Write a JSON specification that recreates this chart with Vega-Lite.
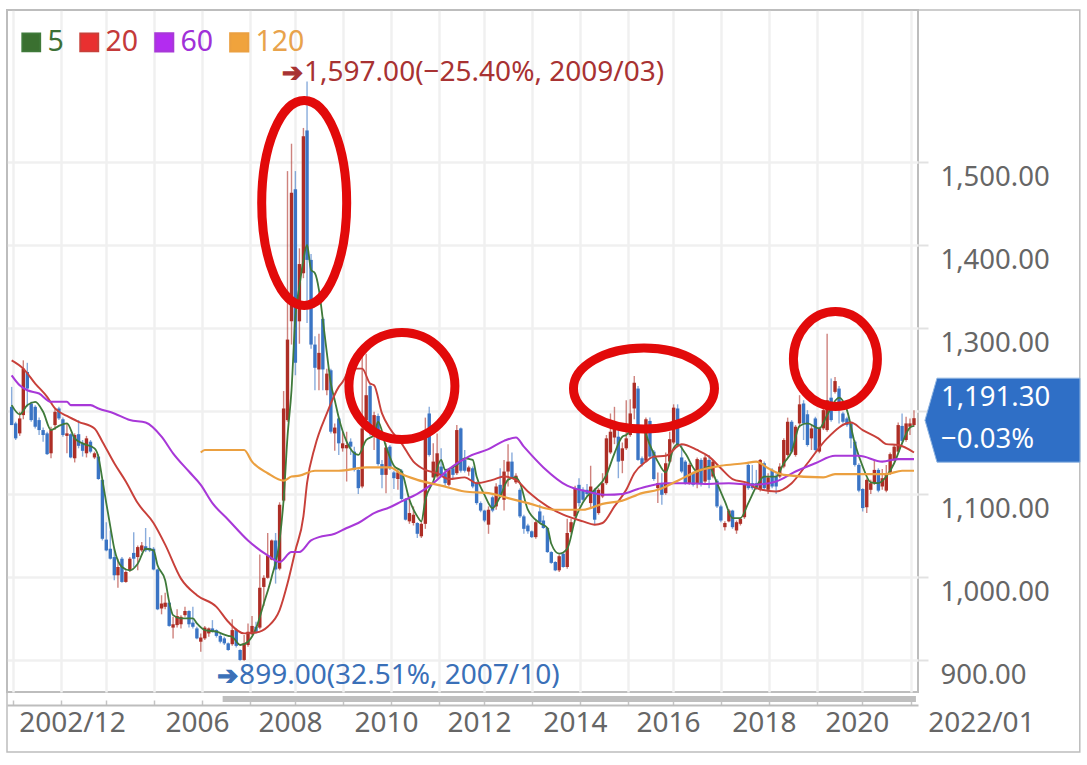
{
"$schema":"https://vega.github.io/schema/vega-lite/v6.json",
"width":911,"height":682,
"padding":{"left":7,"top":10,"right":169,"bottom":73},
"autosize":"none",
"background":"white",
"view":{"stroke":"#bdbdbd","strokeWidth":2,"fill":null},
"config":{"font":"Noto Sans"},
"datasets":{
"candles":[
{"date":"2002-12-01","open":1205,"high":1229,"low":1183,"close":1183},
{"date":"2003-01-01","open":1185,"high":1187,"low":1165,"close":1167},
{"date":"2003-02-01","open":1173,"high":1199,"low":1170,"close":1191},
{"date":"2003-03-01","open":1195,"high":1261,"low":1190,"close":1251},
{"date":"2003-04-01","open":1247,"high":1258,"low":1205,"close":1227},
{"date":"2003-05-01","open":1209,"high":1211,"low":1187,"close":1189},
{"date":"2003-06-01","open":1205,"high":1207,"low":1179,"close":1181},
{"date":"2003-07-01","open":1189,"high":1192,"low":1171,"close":1177},
{"date":"2003-08-01","open":1177,"high":1180,"low":1163,"close":1171},
{"date":"2003-09-01","open":1173,"high":1175,"low":1147,"close":1148},
{"date":"2003-10-01","open":1149,"high":1181,"low":1143,"close":1177},
{"date":"2003-11-01","open":1183,"high":1203,"low":1177,"close":1199},
{"date":"2003-12-01","open":1203,"high":1205,"low":1189,"close":1191},
{"date":"2004-01-01","open":1190,"high":1192,"low":1169,"close":1171},
{"date":"2004-02-01","open":1170,"high":1185,"low":1149,"close":1173},
{"date":"2004-03-01","open":1172,"high":1173,"low":1143,"close":1144},
{"date":"2004-04-01","open":1143,"high":1173,"low":1138,"close":1171},
{"date":"2004-05-01","open":1172,"high":1189,"low":1155,"close":1158},
{"date":"2004-06-01","open":1161,"high":1165,"low":1145,"close":1152},
{"date":"2004-07-01","open":1149,"high":1170,"low":1144,"close":1167},
{"date":"2004-08-01","open":1163,"high":1165,"low":1149,"close":1151},
{"date":"2004-09-01","open":1144,"high":1151,"low":1142,"close":1149},
{"date":"2004-10-01","open":1145,"high":1148,"low":1117,"close":1118},
{"date":"2004-11-01","open":1117,"high":1118,"low":1044,"close":1046},
{"date":"2004-12-01","open":1045,"high":1066,"low":1031,"close":1032},
{"date":"2005-01-01","open":1034,"high":1056,"low":1021,"close":1022},
{"date":"2005-02-01","open":1024,"high":1034,"low":996,"close":1002},
{"date":"2005-03-01","open":1002,"high":1022,"low":987,"close":1012},
{"date":"2005-04-01","open":1022,"high":1024,"low":993,"close":994},
{"date":"2005-05-01","open":994,"high":1008,"low":993,"close":1006},
{"date":"2005-06-01","open":1008,"high":1024,"low":1006,"close":1022},
{"date":"2005-07-01","open":1029,"high":1054,"low":1012,"close":1022},
{"date":"2005-08-01","open":1024,"high":1038,"low":1008,"close":1036},
{"date":"2005-09-01","open":1032,"high":1042,"low":1030,"close":1038},
{"date":"2005-10-01","open":1037,"high":1059,"low":1030,"close":1032},
{"date":"2005-11-01","open":1035,"high":1048,"low":1030,"close":1032},
{"date":"2005-12-01","open":1034,"high":1036,"low":1008,"close":1009},
{"date":"2006-01-01","open":1009,"high":1010,"low":960,"close":961},
{"date":"2006-02-01","open":962,"high":978,"low":955,"close":968},
{"date":"2006-03-01","open":964,"high":981,"low":961,"close":969},
{"date":"2006-04-01","open":969,"high":970,"low":940,"close":941},
{"date":"2006-05-01","open":939,"high":952,"low":926,"close":943},
{"date":"2006-06-01","open":942,"high":961,"low":939,"close":953},
{"date":"2006-07-01","open":943,"high":954,"low":938,"close":952},
{"date":"2006-08-01","open":954,"high":964,"low":952,"close":959},
{"date":"2006-09-01","open":959,"high":960,"low":939,"close":943},
{"date":"2006-10-01","open":945,"high":964,"low":938,"close":940},
{"date":"2006-11-01","open":938,"high":940,"low":925,"close":926},
{"date":"2006-12-01","open":922,"high":932,"low":910,"close":927},
{"date":"2007-01-01","open":926,"high":941,"low":924,"close":939},
{"date":"2007-02-01","open":932,"high":939,"low":928,"close":938},
{"date":"2007-03-01","open":938,"high":948,"low":933,"close":935},
{"date":"2007-04-01","open":936,"high":937,"low":927,"close":929},
{"date":"2007-05-01","open":929,"high":932,"low":920,"close":922},
{"date":"2007-06-01","open":926,"high":928,"low":918,"close":920},
{"date":"2007-07-01","open":920,"high":921,"low":911,"close":912},
{"date":"2007-08-01","open":919,"high":949,"low":917,"close":936},
{"date":"2007-09-01","open":936,"high":938,"low":915,"close":917},
{"date":"2007-10-01","open":912,"high":913,"low":899,"close":900},
{"date":"2007-11-01","open":900,"high":930,"low":899,"close":920},
{"date":"2007-12-01","open":918,"high":944,"low":916,"close":934},
{"date":"2008-01-01","open":931,"high":953,"low":930,"close":941},
{"date":"2008-02-01","open":940,"high":946,"low":932,"close":934},
{"date":"2008-03-01","open":939,"high":1027,"low":937,"close":987},
{"date":"2008-04-01","open":988,"high":1002,"low":965,"close":999},
{"date":"2008-05-01","open":999,"high":1053,"low":998,"close":1026},
{"date":"2008-06-01","open":1021,"high":1045,"low":1020,"close":1044},
{"date":"2008-07-01","open":1044,"high":1053,"low":992,"close":1009},
{"date":"2008-08-01","open":1010,"high":1090,"low":1008,"close":1087},
{"date":"2008-09-01","open":1092,"high":1224,"low":1090,"close":1203},
{"date":"2008-10-01","open":1189,"high":1489,"low":1187,"close":1286},
{"date":"2008-11-01","open":1308,"high":1522,"low":1280,"close":1463},
{"date":"2008-12-01","open":1467,"high":1489,"low":1243,"close":1258},
{"date":"2009-01-01","open":1308,"high":1396,"low":1281,"close":1377},
{"date":"2009-02-01","open":1366,"high":1541,"low":1360,"close":1531},
{"date":"2009-03-01","open":1538,"high":1597,"low":1306,"close":1382},
{"date":"2009-04-01","open":1382,"high":1389,"low":1275,"close":1280},
{"date":"2009-05-01","open":1280,"high":1290,"low":1225,"close":1252},
{"date":"2009-06-01","open":1250,"high":1293,"low":1225,"close":1270},
{"date":"2009-07-01","open":1311,"high":1313,"low":1225,"close":1250},
{"date":"2009-08-01","open":1225,"high":1251,"low":1219,"close":1245},
{"date":"2009-09-01","open":1249,"high":1251,"low":1173,"close":1175},
{"date":"2009-10-01","open":1173,"high":1185,"low":1152,"close":1180},
{"date":"2009-11-01","open":1191,"high":1193,"low":1147,"close":1161},
{"date":"2009-12-01","open":1155,"high":1175,"low":1151,"close":1161},
{"date":"2010-01-01","open":1155,"high":1175,"low":1115,"close":1159},
{"date":"2010-02-01","open":1163,"high":1167,"low":1147,"close":1157},
{"date":"2010-03-01","open":1151,"high":1157,"low":1127,"close":1129},
{"date":"2010-04-01","open":1129,"high":1130,"low":1100,"close":1107},
{"date":"2010-05-01","open":1109,"high":1269,"low":1107,"close":1179},
{"date":"2010-06-01","open":1189,"high":1269,"low":1177,"close":1219},
{"date":"2010-07-01","open":1230,"high":1233,"low":1170,"close":1180},
{"date":"2010-08-01","open":1180,"high":1199,"low":1153,"close":1195},
{"date":"2010-09-01","open":1194,"high":1197,"low":1134,"close":1136},
{"date":"2010-10-01","open":1136,"high":1141,"low":1107,"close":1123},
{"date":"2010-11-01","open":1123,"high":1161,"low":1101,"close":1156},
{"date":"2010-12-01","open":1157,"high":1159,"low":1129,"close":1131},
{"date":"2011-01-01","open":1126,"high":1128,"low":1106,"close":1119},
{"date":"2011-02-01","open":1118,"high":1131,"low":1105,"close":1126},
{"date":"2011-03-01","open":1128,"high":1130,"low":1092,"close":1094},
{"date":"2011-04-01","open":1094,"high":1095,"low":1068,"close":1069},
{"date":"2011-05-01","open":1067,"high":1097,"low":1064,"close":1077},
{"date":"2011-06-01","open":1065,"high":1085,"low":1062,"close":1075},
{"date":"2011-07-01","open":1065,"high":1066,"low":1047,"close":1052},
{"date":"2011-08-01","open":1049,"high":1066,"low":1047,"close":1064},
{"date":"2011-09-01","open":1064,"high":1192,"low":1058,"close":1175},
{"date":"2011-10-01","open":1197,"high":1205,"low":1145,"close":1147},
{"date":"2011-11-01","open":1120,"high":1161,"low":1119,"close":1139},
{"date":"2011-12-01","open":1121,"high":1173,"low":1119,"close":1149},
{"date":"2012-01-01","open":1133,"high":1155,"low":1120,"close":1123},
{"date":"2012-02-01","open":1125,"high":1130,"low":1110,"close":1113},
{"date":"2012-03-01","open":1111,"high":1131,"low":1109,"close":1129},
{"date":"2012-04-01","open":1131,"high":1133,"low":1119,"close":1123},
{"date":"2012-05-01","open":1125,"high":1183,"low":1123,"close":1177},
{"date":"2012-06-01","open":1179,"high":1180,"low":1126,"close":1128},
{"date":"2012-07-01","open":1141,"high":1153,"low":1126,"close":1128},
{"date":"2012-08-01","open":1127,"high":1134,"low":1122,"close":1132},
{"date":"2012-09-01","open":1131,"high":1133,"low":1107,"close":1109},
{"date":"2012-10-01","open":1113,"high":1115,"low":1087,"close":1089},
{"date":"2012-11-01","open":1089,"high":1091,"low":1078,"close":1080},
{"date":"2012-12-01","open":1080,"high":1081,"low":1066,"close":1068},
{"date":"2013-01-01","open":1063,"high":1085,"low":1052,"close":1081},
{"date":"2013-02-01","open":1096,"high":1098,"low":1078,"close":1080},
{"date":"2013-03-01","open":1085,"high":1113,"low":1081,"close":1109},
{"date":"2013-04-01","open":1111,"high":1131,"low":1095,"close":1097},
{"date":"2013-05-01","open":1093,"high":1141,"low":1080,"close":1127},
{"date":"2013-06-01","open":1127,"high":1160,"low":1109,"close":1139},
{"date":"2013-07-01","open":1139,"high":1150,"low":1118,"close":1120},
{"date":"2013-08-01","open":1114,"high":1125,"low":1112,"close":1122},
{"date":"2013-09-01","open":1105,"high":1107,"low":1071,"close":1073},
{"date":"2013-10-01","open":1073,"high":1075,"low":1052,"close":1058},
{"date":"2013-11-01","open":1062,"high":1064,"low":1052,"close":1055},
{"date":"2013-12-01","open":1055,"high":1056,"low":1047,"close":1048},
{"date":"2014-01-01","open":1048,"high":1068,"low":1046,"close":1066},
{"date":"2014-02-01","open":1079,"high":1087,"low":1064,"close":1066},
{"date":"2014-03-01","open":1068,"high":1074,"low":1058,"close":1059},
{"date":"2014-04-01","open":1059,"high":1060,"low":1029,"close":1030},
{"date":"2014-05-01","open":1030,"high":1031,"low":1016,"close":1017},
{"date":"2014-06-01","open":1018,"high":1019,"low":1007,"close":1008},
{"date":"2014-07-01","open":1008,"high":1027,"low":1006,"close":1025},
{"date":"2014-08-01","open":1028,"high":1030,"low":1011,"close":1012},
{"date":"2014-09-01","open":1012,"high":1070,"low":1010,"close":1053},
{"date":"2014-10-01","open":1054,"high":1070,"low":1052,"close":1066},
{"date":"2014-11-01","open":1073,"high":1110,"low":1071,"close":1107},
{"date":"2014-12-01","open":1111,"high":1119,"low":1085,"close":1089},
{"date":"2015-01-01","open":1105,"high":1108,"low":1091,"close":1093},
{"date":"2015-02-01","open":1105,"high":1112,"low":1097,"close":1100},
{"date":"2015-03-01","open":1089,"high":1134,"low":1083,"close":1109},
{"date":"2015-04-01","open":1105,"high":1107,"low":1063,"close":1069},
{"date":"2015-05-01","open":1077,"high":1107,"low":1075,"close":1105},
{"date":"2015-06-01","open":1097,"high":1125,"low":1095,"close":1113},
{"date":"2015-07-01","open":1113,"high":1171,"low":1111,"close":1167},
{"date":"2015-08-01","open":1150,"high":1197,"low":1148,"close":1175},
{"date":"2015-09-01","open":1168,"high":1205,"low":1160,"close":1180},
{"date":"2015-10-01","open":1169,"high":1185,"low":1119,"close":1139},
{"date":"2015-11-01","open":1140,"high":1162,"low":1125,"close":1155},
{"date":"2015-12-01","open":1155,"high":1213,"low":1153,"close":1167},
{"date":"2016-01-01","open":1171,"high":1214,"low":1169,"close":1197},
{"date":"2016-02-01","open":1203,"high":1242,"low":1190,"close":1234},
{"date":"2016-03-01","open":1227,"high":1230,"low":1140,"close":1141},
{"date":"2016-04-01","open":1143,"high":1145,"low":1133,"close":1136},
{"date":"2016-05-01","open":1140,"high":1192,"low":1138,"close":1190},
{"date":"2016-06-01","open":1188,"high":1192,"low":1143,"close":1145},
{"date":"2016-07-01","open":1151,"high":1153,"low":1116,"close":1118},
{"date":"2016-08-01","open":1107,"high":1126,"low":1089,"close":1113},
{"date":"2016-09-01","open":1113,"high":1125,"low":1087,"close":1099},
{"date":"2016-10-01","open":1101,"high":1150,"low":1099,"close":1137},
{"date":"2016-11-01","open":1139,"high":1175,"low":1137,"close":1166},
{"date":"2016-12-01","open":1162,"high":1208,"low":1160,"close":1204},
{"date":"2017-01-01","open":1203,"high":1208,"low":1158,"close":1160},
{"date":"2017-02-01","open":1144,"high":1160,"low":1125,"close":1127},
{"date":"2017-03-01","open":1139,"high":1141,"low":1111,"close":1113},
{"date":"2017-04-01","open":1113,"high":1137,"low":1111,"close":1135},
{"date":"2017-05-01","open":1125,"high":1127,"low":1109,"close":1111},
{"date":"2017-06-01","open":1113,"high":1144,"low":1107,"close":1142},
{"date":"2017-07-01","open":1141,"high":1143,"low":1109,"close":1113},
{"date":"2017-08-01","open":1115,"high":1147,"low":1113,"close":1144},
{"date":"2017-09-01","open":1141,"high":1147,"low":1107,"close":1117},
{"date":"2017-10-01","open":1121,"high":1141,"low":1119,"close":1139},
{"date":"2017-11-01","open":1116,"high":1118,"low":1083,"close":1085},
{"date":"2017-12-01","open":1085,"high":1087,"low":1066,"close":1068},
{"date":"2018-01-01","open":1060,"high":1067,"low":1056,"close":1065},
{"date":"2018-02-01","open":1067,"high":1082,"low":1066,"close":1080},
{"date":"2018-03-01","open":1080,"high":1081,"low":1058,"close":1060},
{"date":"2018-04-01","open":1056,"high":1068,"low":1052,"close":1066},
{"date":"2018-05-01","open":1064,"high":1072,"low":1062,"close":1070},
{"date":"2018-06-01","open":1072,"high":1113,"low":1070,"close":1111},
{"date":"2018-07-01","open":1135,"high":1137,"low":1105,"close":1107},
{"date":"2018-08-01","open":1113,"high":1135,"low":1105,"close":1107},
{"date":"2018-09-01","open":1113,"high":1129,"low":1105,"close":1107},
{"date":"2018-10-01","open":1105,"high":1142,"low":1103,"close":1141},
{"date":"2018-11-01","open":1137,"high":1139,"low":1105,"close":1107},
{"date":"2018-12-01","open":1105,"high":1125,"low":1100,"close":1120},
{"date":"2019-01-01","open":1129,"high":1131,"low":1107,"close":1109},
{"date":"2019-02-01","open":1121,"high":1125,"low":1100,"close":1109},
{"date":"2019-03-01","open":1121,"high":1137,"low":1119,"close":1133},
{"date":"2019-04-01","open":1133,"high":1167,"low":1131,"close":1165},
{"date":"2019-05-01","open":1147,"high":1192,"low":1145,"close":1187},
{"date":"2019-06-01","open":1187,"high":1189,"low":1149,"close":1151},
{"date":"2019-07-01","open":1147,"high":1183,"low":1145,"close":1181},
{"date":"2019-08-01","open":1185,"high":1219,"low":1180,"close":1208},
{"date":"2019-09-01","open":1209,"high":1213,"low":1165,"close":1185},
{"date":"2019-10-01","open":1196,"high":1201,"low":1157,"close":1159},
{"date":"2019-11-01","open":1167,"high":1184,"low":1153,"close":1179},
{"date":"2019-12-01","open":1191,"high":1193,"low":1151,"close":1153},
{"date":"2020-01-01","open":1151,"high":1181,"low":1149,"close":1179},
{"date":"2020-02-01","open":1179,"high":1210,"low":1177,"close":1201},
{"date":"2020-03-01","open":1177,"high":1293,"low":1175,"close":1213},
{"date":"2020-04-01","open":1216,"high":1239,"low":1187,"close":1189},
{"date":"2020-05-01","open":1223,"high":1241,"low":1221,"close":1236},
{"date":"2020-06-01","open":1227,"high":1230,"low":1185,"close":1207},
{"date":"2020-07-01","open":1197,"high":1199,"low":1185,"close":1187},
{"date":"2020-08-01","open":1191,"high":1193,"low":1181,"close":1183},
{"date":"2020-09-01","open":1185,"high":1187,"low":1155,"close":1167},
{"date":"2020-10-01","open":1163,"high":1165,"low":1133,"close":1135},
{"date":"2020-11-01","open":1135,"high":1137,"low":1102,"close":1104},
{"date":"2020-12-01","open":1106,"high":1107,"low":1079,"close":1083},
{"date":"2021-01-01","open":1084,"high":1119,"low":1077,"close":1117},
{"date":"2021-02-01","open":1105,"high":1117,"low":1100,"close":1113},
{"date":"2021-03-01","open":1113,"high":1141,"low":1111,"close":1129},
{"date":"2021-04-01","open":1129,"high":1131,"low":1102,"close":1104},
{"date":"2021-05-01","open":1109,"high":1130,"low":1105,"close":1119},
{"date":"2021-06-01","open":1104,"high":1135,"low":1102,"close":1125},
{"date":"2021-07-01","open":1125,"high":1150,"low":1123,"close":1148},
{"date":"2021-08-01","open":1141,"high":1160,"low":1139,"close":1157},
{"date":"2021-09-01","open":1151,"high":1186,"low":1149,"close":1183},
{"date":"2021-10-01","open":1182,"high":1197,"low":1160,"close":1164},
{"date":"2021-11-01","open":1165,"high":1193,"low":1163,"close":1185},
{"date":"2021-12-01","open":1181,"high":1191,"low":1171,"close":1185},
{"date":"2022-01-01","open":1183,"high":1201,"low":1181,"close":1191.3}
],
"averages":[
{"date":"2002-12-01","period":"5","value":1207},{"date":"2003-02-01","period":"5","value":1196},{"date":"2003-04-01","period":"5","value":1207},{"date":"2003-06-01","period":"5","value":1211},{"date":"2003-08-01","period":"5","value":1199},{"date":"2003-10-01","period":"5","value":1177},{"date":"2003-12-01","period":"5","value":1182},{"date":"2004-02-01","period":"5","value":1185},{"date":"2004-04-01","period":"5","value":1167},{"date":"2004-06-01","period":"5","value":1161},{"date":"2004-09-01","period":"5","value":1155},{"date":"2004-10-01","period":"5","value":1145},{"date":"2004-11-01","period":"5","value":1117},{"date":"2004-12-01","period":"5","value":1089},{"date":"2005-01-01","period":"5","value":1061},{"date":"2005-02-01","period":"5","value":1034},{"date":"2005-04-01","period":"5","value":1012},{"date":"2005-06-01","period":"5","value":1008},{"date":"2005-08-01","period":"5","value":1016},{"date":"2005-10-01","period":"5","value":1034},{"date":"2005-12-01","period":"5","value":1032},{"date":"2006-01-01","period":"5","value":1014},{"date":"2006-03-01","period":"5","value":996},{"date":"2006-04-01","period":"5","value":970},{"date":"2006-05-01","period":"5","value":954},{"date":"2006-07-01","period":"5","value":950},{"date":"2006-10-01","period":"5","value":950},{"date":"2006-11-01","period":"5","value":944},{"date":"2007-01-01","period":"5","value":936},{"date":"2007-04-01","period":"5","value":934},{"date":"2007-07-01","period":"5","value":929},{"date":"2007-08-01","period":"5","value":928},{"date":"2007-10-01","period":"5","value":918},{"date":"2007-12-01","period":"5","value":922},{"date":"2008-02-01","period":"5","value":938},{"date":"2008-04-01","period":"5","value":968},{"date":"2008-06-01","period":"5","value":1000},{"date":"2008-08-01","period":"5","value":1044},{"date":"2008-09-01","period":"5","value":1093},{"date":"2008-10-01","period":"5","value":1169},{"date":"2008-11-01","period":"5","value":1225},{"date":"2008-12-01","period":"5","value":1314},{"date":"2009-01-01","period":"5","value":1350},{"date":"2009-02-01","period":"5","value":1382},{"date":"2009-03-01","period":"5","value":1400},{"date":"2009-04-01","period":"5","value":1370},{"date":"2009-05-01","period":"5","value":1366},{"date":"2009-06-01","period":"5","value":1346},{"date":"2009-07-01","period":"5","value":1310},{"date":"2009-08-01","period":"5","value":1270},{"date":"2009-09-01","period":"5","value":1233},{"date":"2009-10-01","period":"5","value":1213},{"date":"2009-11-01","period":"5","value":1192},{"date":"2010-01-01","period":"5","value":1163},{"date":"2010-04-01","period":"5","value":1147},{"date":"2010-06-01","period":"5","value":1165},{"date":"2010-08-01","period":"5","value":1171},{"date":"2010-09-01","period":"5","value":1187},{"date":"2010-11-01","period":"5","value":1157},{"date":"2011-01-01","period":"5","value":1134},{"date":"2011-03-01","period":"5","value":1127},{"date":"2011-05-01","period":"5","value":1093},{"date":"2011-07-01","period":"5","value":1073},{"date":"2011-08-01","period":"5","value":1067},{"date":"2011-09-01","period":"5","value":1093},{"date":"2011-11-01","period":"5","value":1115},{"date":"2012-01-01","period":"5","value":1141},{"date":"2012-02-01","period":"5","value":1129},{"date":"2012-05-01","period":"5","value":1135},{"date":"2012-07-01","period":"5","value":1143},{"date":"2012-09-01","period":"5","value":1141},{"date":"2012-10-01","period":"5","value":1121},{"date":"2012-12-01","period":"5","value":1099},{"date":"2013-02-01","period":"5","value":1083},{"date":"2013-04-01","period":"5","value":1097},{"date":"2013-06-01","period":"5","value":1117},{"date":"2013-08-01","period":"5","value":1120},{"date":"2013-09-01","period":"5","value":1113},{"date":"2013-11-01","period":"5","value":1081},{"date":"2014-02-01","period":"5","value":1065},{"date":"2014-04-01","period":"5","value":1059},{"date":"2014-05-01","period":"5","value":1040},{"date":"2014-07-01","period":"5","value":1028},{"date":"2014-09-01","period":"5","value":1034},{"date":"2014-11-01","period":"5","value":1069},{"date":"2015-02-01","period":"5","value":1097},{"date":"2015-04-01","period":"5","value":1105},{"date":"2015-07-01","period":"5","value":1123},{"date":"2015-09-01","period":"5","value":1149},{"date":"2015-11-01","period":"5","value":1169},{"date":"2015-12-01","period":"5","value":1171},{"date":"2016-02-01","period":"5","value":1182},{"date":"2016-04-01","period":"5","value":1181},{"date":"2016-06-01","period":"5","value":1159},{"date":"2016-08-01","period":"5","value":1139},{"date":"2016-10-01","period":"5","value":1126},{"date":"2016-12-01","period":"5","value":1155},{"date":"2017-01-01","period":"5","value":1160},{"date":"2017-03-01","period":"5","value":1149},{"date":"2017-06-01","period":"5","value":1127},{"date":"2017-09-01","period":"5","value":1133},{"date":"2017-11-01","period":"5","value":1113},{"date":"2018-01-01","period":"5","value":1091},{"date":"2018-03-01","period":"5","value":1071},{"date":"2018-05-01","period":"5","value":1071},{"date":"2018-07-01","period":"5","value":1089},{"date":"2018-09-01","period":"5","value":1109},{"date":"2018-11-01","period":"5","value":1121},{"date":"2019-02-01","period":"5","value":1121},{"date":"2019-04-01","period":"5","value":1137},{"date":"2019-06-01","period":"5","value":1151},{"date":"2019-08-01","period":"5","value":1182},{"date":"2019-10-01","period":"5","value":1185},{"date":"2020-01-01","period":"5","value":1179},{"date":"2020-03-01","period":"5","value":1195},{"date":"2020-06-01","period":"5","value":1216},{"date":"2020-08-01","period":"5","value":1201},{"date":"2020-10-01","period":"5","value":1161},{"date":"2020-12-01","period":"5","value":1133},{"date":"2021-02-01","period":"5","value":1114},{"date":"2021-04-01","period":"5","value":1113},{"date":"2021-06-01","period":"5","value":1121},{"date":"2021-08-01","period":"5","value":1137},{"date":"2021-10-01","period":"5","value":1161},{"date":"2021-12-01","period":"5","value":1180},{"date":"2022-01-01","period":"5","value":1182},
{"date":"2002-12-01","period":"20","value":1261},{"date":"2003-03-01","period":"20","value":1251},{"date":"2003-06-01","period":"20","value":1233},{"date":"2003-09-01","period":"20","value":1217},{"date":"2003-11-01","period":"20","value":1203},{"date":"2004-02-01","period":"20","value":1194},{"date":"2004-05-01","period":"20","value":1187},{"date":"2004-09-01","period":"20","value":1179},{"date":"2004-11-01","period":"20","value":1163},{"date":"2005-02-01","period":"20","value":1137},{"date":"2005-05-01","period":"20","value":1115},{"date":"2005-08-01","period":"20","value":1089},{"date":"2005-12-01","period":"20","value":1065},{"date":"2006-03-01","period":"20","value":1039},{"date":"2006-07-01","period":"20","value":998},{"date":"2006-11-01","period":"20","value":978},{"date":"2007-04-01","period":"20","value":964},{"date":"2007-07-01","period":"20","value":946},{"date":"2007-11-01","period":"20","value":932},{"date":"2008-02-01","period":"20","value":933},{"date":"2008-05-01","period":"20","value":940},{"date":"2008-08-01","period":"20","value":960},{"date":"2008-10-01","period":"20","value":992},{"date":"2008-12-01","period":"20","value":1032},{"date":"2009-02-01","period":"20","value":1073},{"date":"2009-03-01","period":"20","value":1113},{"date":"2009-05-01","period":"20","value":1157},{"date":"2009-08-01","period":"20","value":1197},{"date":"2009-11-01","period":"20","value":1229},{"date":"2009-12-01","period":"20","value":1235},{"date":"2010-02-01","period":"20","value":1251},{"date":"2010-05-01","period":"20","value":1251},{"date":"2010-07-01","period":"20","value":1233},{"date":"2010-08-01","period":"20","value":1231},{"date":"2010-10-01","period":"20","value":1197},{"date":"2010-12-01","period":"20","value":1179},{"date":"2011-03-01","period":"20","value":1161},{"date":"2011-06-01","period":"20","value":1139},{"date":"2011-09-01","period":"20","value":1129},{"date":"2011-12-01","period":"20","value":1125},{"date":"2012-03-01","period":"20","value":1118},{"date":"2012-07-01","period":"20","value":1120},{"date":"2012-10-01","period":"20","value":1113},{"date":"2013-02-01","period":"20","value":1117},{"date":"2013-05-01","period":"20","value":1121},{"date":"2013-08-01","period":"20","value":1117},{"date":"2013-11-01","period":"20","value":1103},{"date":"2014-04-01","period":"20","value":1085},{"date":"2014-08-01","period":"20","value":1075},{"date":"2015-01-01","period":"20","value":1067},{"date":"2015-04-01","period":"20","value":1063},{"date":"2015-06-01","period":"20","value":1065},{"date":"2015-09-01","period":"20","value":1085},{"date":"2015-12-01","period":"20","value":1105},{"date":"2016-02-01","period":"20","value":1125},{"date":"2016-05-01","period":"20","value":1139},{"date":"2016-07-01","period":"20","value":1145},{"date":"2016-10-01","period":"20","value":1146},{"date":"2017-02-01","period":"20","value":1160},{"date":"2017-06-01","period":"20","value":1153},{"date":"2017-09-01","period":"20","value":1145},{"date":"2017-12-01","period":"20","value":1131},{"date":"2018-03-01","period":"20","value":1118},{"date":"2018-07-01","period":"20","value":1113},{"date":"2018-09-01","period":"20","value":1107},{"date":"2019-02-01","period":"20","value":1103},{"date":"2019-06-01","period":"20","value":1113},{"date":"2019-10-01","period":"20","value":1137},{"date":"2020-03-01","period":"20","value":1167},{"date":"2020-09-01","period":"20","value":1186},{"date":"2020-12-01","period":"20","value":1177},{"date":"2021-04-01","period":"20","value":1167},{"date":"2021-06-01","period":"20","value":1160},{"date":"2021-09-01","period":"20","value":1159},{"date":"2022-01-01","period":"20","value":1150},
{"date":"2002-12-01","period":"60","value":1243},{"date":"2003-02-01","period":"60","value":1231},{"date":"2003-04-01","period":"60","value":1225},{"date":"2003-07-01","period":"60","value":1221},{"date":"2003-10-01","period":"60","value":1211},{"date":"2004-02-01","period":"60","value":1211},{"date":"2004-03-01","period":"60","value":1207},{"date":"2004-08-01","period":"60","value":1207},{"date":"2004-10-01","period":"60","value":1203},{"date":"2005-02-01","period":"60","value":1197},{"date":"2005-06-01","period":"60","value":1189},{"date":"2005-10-01","period":"60","value":1186},{"date":"2006-02-01","period":"60","value":1169},{"date":"2006-05-01","period":"60","value":1149},{"date":"2006-09-01","period":"60","value":1127},{"date":"2006-12-01","period":"60","value":1111},{"date":"2007-03-01","period":"60","value":1089},{"date":"2007-07-01","period":"60","value":1069},{"date":"2007-12-01","period":"60","value":1044},{"date":"2008-05-01","period":"60","value":1026},{"date":"2008-08-01","period":"60","value":1018},{"date":"2008-11-01","period":"60","value":1030},{"date":"2009-01-01","period":"60","value":1030},{"date":"2009-04-01","period":"60","value":1044},{"date":"2009-06-01","period":"60","value":1048},{"date":"2009-10-01","period":"60","value":1052},{"date":"2010-01-01","period":"60","value":1059},{"date":"2010-04-01","period":"60","value":1065},{"date":"2010-08-01","period":"60","value":1077},{"date":"2010-12-01","period":"60","value":1084},{"date":"2011-03-01","period":"60","value":1091},{"date":"2011-07-01","period":"60","value":1100},{"date":"2011-11-01","period":"60","value":1113},{"date":"2012-03-01","period":"60","value":1130},{"date":"2012-08-01","period":"60","value":1145},{"date":"2013-01-01","period":"60","value":1154},{"date":"2013-05-01","period":"60","value":1164},{"date":"2013-08-01","period":"60","value":1168},{"date":"2013-10-01","period":"60","value":1157},{"date":"2014-03-01","period":"60","value":1132},{"date":"2014-09-01","period":"60","value":1110},{"date":"2015-02-01","period":"60","value":1103},{"date":"2015-07-01","period":"60","value":1099},{"date":"2015-11-01","period":"60","value":1100},{"date":"2016-03-01","period":"60","value":1106},{"date":"2016-06-01","period":"60","value":1110},{"date":"2016-10-01","period":"60","value":1113},{"date":"2017-03-01","period":"60","value":1113},{"date":"2017-08-01","period":"60","value":1112},{"date":"2018-02-01","period":"60","value":1113},{"date":"2018-08-01","period":"60","value":1111},{"date":"2019-02-01","period":"60","value":1115},{"date":"2019-07-01","period":"60","value":1127},{"date":"2019-12-01","period":"60","value":1137},{"date":"2020-05-01","period":"60","value":1146},{"date":"2020-11-01","period":"60","value":1146},{"date":"2021-05-01","period":"60","value":1139},{"date":"2021-09-01","period":"60","value":1142},{"date":"2022-01-01","period":"60","value":1142},
{"date":"2006-12-01","period":"120","value":1150},{"date":"2007-01-01","period":"120","value":1153},{"date":"2007-11-01","period":"120","value":1153},{"date":"2008-01-01","period":"120","value":1139},{"date":"2008-05-01","period":"120","value":1125},{"date":"2008-09-01","period":"120","value":1116},{"date":"2008-11-01","period":"120","value":1121},{"date":"2009-01-01","period":"120","value":1122},{"date":"2009-05-01","period":"120","value":1128},{"date":"2009-11-01","period":"120","value":1128},{"date":"2010-06-01","period":"120","value":1132},{"date":"2010-12-01","period":"120","value":1132},{"date":"2011-03-01","period":"120","value":1124},{"date":"2011-07-01","period":"120","value":1117},{"date":"2012-01-01","period":"120","value":1110},{"date":"2012-07-01","period":"120","value":1103},{"date":"2013-01-01","period":"120","value":1101},{"date":"2013-06-01","period":"120","value":1095},{"date":"2013-11-01","period":"120","value":1089},{"date":"2014-06-01","period":"120","value":1081},{"date":"2015-01-01","period":"120","value":1081},{"date":"2015-06-01","period":"120","value":1088},{"date":"2015-11-01","period":"120","value":1092},{"date":"2016-04-01","period":"120","value":1101},{"date":"2016-08-01","period":"120","value":1105},{"date":"2017-01-01","period":"120","value":1116},{"date":"2017-07-01","period":"120","value":1129},{"date":"2017-12-01","period":"120","value":1134},{"date":"2018-06-01","period":"120","value":1137},{"date":"2018-09-01","period":"120","value":1139},{"date":"2018-12-01","period":"120","value":1131},{"date":"2019-04-01","period":"120","value":1123},{"date":"2020-02-01","period":"120","value":1120},{"date":"2020-05-01","period":"120","value":1124},{"date":"2021-06-01","period":"120","value":1124},{"date":"2021-10-01","period":"120","value":1128},{"date":"2022-01-01","period":"120","value":1128}
]
},
"layer":[
{
"data":{"name":"candles"},
"mark":{"type":"rule","strokeWidth":1.4,"opacity":0.6},
"encoding":{
"x":{
"field":"date","type":"temporal","title":null,
"scale":{"type":"utc","domain":["2002-10-26","2022-02-01"]},
"axis":{
"orient":"bottom","offset":13,
"values":["2002-12-11","2003-12-17","2004-11-29","2005-12-04","2006-12-10","2007-12-16","2008-11-28","2009-12-03","2010-12-09","2011-12-15","2012-11-27","2013-12-02","2014-12-08","2015-12-14","2016-11-26","2017-12-01","2018-12-07","2019-12-13","2020-11-24","2021-12-08"],
"labelExpr":"utcyear(datum.value)==2002?'2002/12':utcyear(datum.value)==2021?'2022/01':(utcyear(datum.value)>=2006&&utcyear(datum.value)%2==0?utcyear(datum.value)+'':'')",
"labelOffset":{"condition":[{"test":"utcyear(datum.value)==2002","value":59},{"test":"utcyear(datum.value)==2021","value":70}],"value":-5},
"labelOverlap":false,"labelBound":false,"labelFlush":false,
"labelFontSize":28,"labelColor":"#666666","labelFont":"Noto Sans","labelPadding":9,"labelBaseline":"top",
"tickSize":-5,"tickColor":"#c4c4c4","tickWidth":1.5,
"domainColor":"#bdbdbd","domainWidth":2,
"grid":true,"gridColor":"#f0f0f0","gridWidth":2.5
}
},
"y":{
"field":"low","type":"quantitative","title":null,
"scale":{"domain":[861.4,1683.1],"zero":false,"nice":false},
"axis":{
"orient":"right",
"values":[900,1000,1100,1200,1300,1400,1500],
"format":",.2f",
"labelExpr":"datum.value==1200?'':datum.label",
"labelFontSize":27.5,"labelColor":"#666666","labelFont":"Noto Sans","labelAlign":"left","labelPadding":12,"labelOffset":16,
"tickSize":10,"tickColor":"#e2e2e2","tickWidth":2,
"domain":false,
"grid":true,"gridColor":"#f0f0f0","gridWidth":2.5
}
},
"y2":{"field":"high"},
"color":{"condition":{"test":"datum.close>=datum.open","value":"#ad2e26"},"value":"#3a74c4"}
}
},
{
"data":{"values":[{"start":"2002-10-26","end":"2025-07-05","top":1683.1,"bottom":789.2}]},
"mark":{"type":"rect","fill":null,"stroke":"#bdbdbd","strokeWidth":1.5},
"encoding":{
"x":{"field":"start","type":"temporal","title":null},
"x2":{"field":"end"},
"y":{"field":"top","type":"quantitative","title":null},
"y2":{"field":"bottom"}
}
},
{
"data":{"values":[{"start":"2007-05-19","end":"2022-01-16","top":856.6,"bottom":849.4}]},
"mark":{"type":"rect","fill":"#bfbfbf"},
"encoding":{
"x":{"field":"start","type":"temporal","title":null},
"x2":{"field":"end"},
"y":{"field":"top","type":"quantitative","title":null},
"y2":{"field":"bottom"}
}
},
{
"data":{"name":"candles"},
"mark":{"type":"rule","strokeWidth":3.4},
"encoding":{
"x":{"field":"date","type":"temporal","title":null},
"y":{"field":"open","type":"quantitative","title":null},
"y2":{"field":"close"},
"color":{"condition":{"test":"datum.close>=datum.open","value":"#ad2e26"},"value":"#3a74c4"}
}
},
{
"data":{"name":"averages"},
"mark":{"type":"line","interpolate":"monotone"},
"encoding":{
"x":{"field":"date","type":"temporal","title":null},
"y":{"field":"value","type":"quantitative","title":null},
"strokeWidth":{"field":"period","type":"nominal","scale":{"domain":["5","20","60","120"],"range":[1.8,2.2,2.8,2.6]},"legend":null},
"color":{
"field":"period","type":"nominal",
"scale":{"domain":["5","20","60","120"],"range":["#3f7a3a","#c8403a","#a838d8","#eba040"]},
"legend":{
"title":null,"orient":"none","legendX":10,"legendY":18,"direction":"horizontal",
"symbolType":"square","symbolSize":324,"symbolStrokeWidth":0,
"labelFontSize":28.5,"labelFont":"Noto Sans","labelOffset":2,"columnPadding":11,
"encode":{
"symbols":{"update":{"fill":[{"test":"datum.value=='5'","value":"#3a7030"},{"test":"datum.value=='20'","value":"#e93030"},{"test":"datum.value=='60'","value":"#b32cf0"},{"value":"#f0a33c"}],"opacity":{"value":1}}},
"labels":{"update":{"fill":[{"test":"datum.value=='5'","value":"#3c7036"},{"test":"datum.value=='20'","value":"#c43a3a"},{"test":"datum.value=='60'","value":"#a030d8"},{"value":"#e8a34c"}]}}
}
}
}
}
},
{
"data":{"values":[{"date":"2009-02-07","price":1450.6}]},
"mark":{"type":"point","shape":"M-0.425,0A0.425,1.025 0 1,0 0.425,0A0.425,1.025 0 1,0 -0.425,0Z","size":40000,"filled":false,"stroke":"#e20a0a","strokeWidth":9,"opacity":1},
"encoding":{"x":{"field":"date","type":"temporal","title":null},"y":{"field":"price","type":"quantitative","title":null}}
},
{
"data":{"values":[{"date":"2011-03-04","price":1230}]},
"mark":{"type":"point","shape":"M-0.53,0A0.53,0.535 0 1,0 0.53,0A0.53,0.535 0 1,0 -0.53,0Z","size":40000,"filled":false,"stroke":"#e20a0a","strokeWidth":9,"opacity":1},
"encoding":{"x":{"field":"date","type":"temporal","title":null},"y":{"field":"price","type":"quantitative","title":null}}
},
{
"data":{"values":[{"date":"2016-04-16","price":1227}]},
"mark":{"type":"point","shape":"M-0.705,0A0.705,0.405 0 1,0 0.705,0A0.705,0.405 0 1,0 -0.705,0Z","size":40000,"filled":false,"stroke":"#e20a0a","strokeWidth":9,"opacity":1},
"encoding":{"x":{"field":"date","type":"temporal","title":null},"y":{"field":"price","type":"quantitative","title":null}}
},
{
"data":{"values":[{"date":"2020-05-04","price":1262.6}]},
"mark":{"type":"point","shape":"M-0.42,0A0.42,0.475 0 1,0 0.42,0A0.42,0.475 0 1,0 -0.42,0Z","size":40000,"filled":false,"stroke":"#e20a0a","strokeWidth":9,"opacity":1},
"encoding":{"x":{"field":"date","type":"temporal","title":null},"y":{"field":"price","type":"quantitative","title":null}}
},
{
"data":{"values":[{"date":"2009-03-01","price":1597,"label":"1,597.00(−25.40%, 2009/03)","arrow":"➔"}]},
"layer":[
{"mark":{"type":"text","align":"left","baseline":"middle","dy":-8,"dx":-3,"fontSize":28,"font":"Noto Sans","color":"#a83232"},
"encoding":{"x":{"field":"date","type":"temporal","title":null},"y":{"field":"price","type":"quantitative","title":null},"text":{"field":"label"}}},
{"mark":{"type":"text","align":"right","baseline":"middle","dy":-8,"dx":-4,"fontSize":25,"fontWeight":"bold","font":"DejaVu Sans","color":"#a83232","stroke":"#a83232","strokeWidth":1.2},
"encoding":{"x":{"field":"date","type":"temporal","title":null},"y":{"field":"price","type":"quantitative","title":null},"text":{"field":"arrow"}}}
]
},
{
"data":{"values":[{"date":"2007-10-01","price":899,"label":"899.00(32.51%, 2007/10)","arrow":"➔"}]},
"layer":[
{"mark":{"type":"text","align":"left","baseline":"middle","dy":15,"dx":-1,"fontSize":28,"font":"Noto Sans","color":"#3a70b8"},
"encoding":{"x":{"field":"date","type":"temporal","title":null},"y":{"field":"price","type":"quantitative","title":null},"text":{"field":"label"}}},
{"mark":{"type":"text","align":"right","baseline":"middle","dy":15,"dx":-2,"fontSize":25,"fontWeight":"bold","font":"DejaVu Sans","color":"#3a70b8","stroke":"#3a70b8","strokeWidth":1.2},
"encoding":{"x":{"field":"date","type":"temporal","title":null},"y":{"field":"price","type":"quantitative","title":null},"text":{"field":"arrow"}}}
]
},
{
"data":{"values":[{"date":"2022-01-01","price":1191.3,"last":"1,191.30","change":"−0.03%"}]},
"layer":[
{"mark":{"type":"point","shape":"M0.11,0.02L0.23,-0.40L1.66,-0.40L1.66,0.44L0.23,0.44Z","size":40000,"filled":true,"fill":"#2f6fc6","stroke":"#8fb4e0","strokeWidth":1,"opacity":1},
"encoding":{"x":{"field":"date","type":"temporal","title":null},"y":{"field":"price","type":"quantitative","title":null}}},
{"mark":{"type":"text","align":"left","baseline":"middle","dx":27,"dy":-20,"fontSize":27.5,"font":"Noto Sans","color":"white"},
"encoding":{"x":{"field":"date","type":"temporal","title":null},"y":{"field":"price","type":"quantitative","title":null},"text":{"field":"last"}}},
{"mark":{"type":"text","align":"left","baseline":"middle","dx":27,"dy":22,"fontSize":27.5,"font":"Noto Sans","color":"white"},
"encoding":{"x":{"field":"date","type":"temporal","title":null},"y":{"field":"price","type":"quantitative","title":null},"text":{"field":"change"}}}
]
}
]
}
